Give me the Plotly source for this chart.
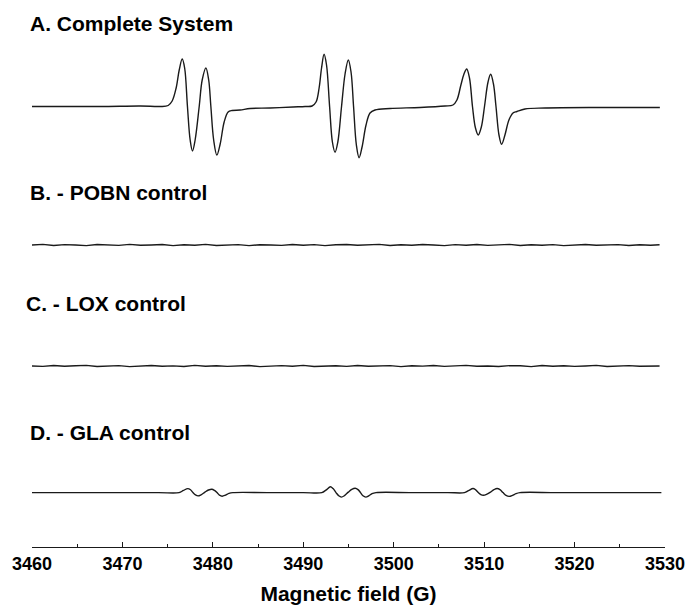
import plotly.graph_objects as go

# ---------------- data ----------------
# A. Complete System: magnetic field (G) and signal intensity (arb. units)
field_a = [3460.0, 3467.5, 3472.0, 3474.18, 3475.06, 3475.50, 3475.94, 3476.28, 3476.61,
           3476.88, 3477.19, 3477.49, 3477.75, 3478.04, 3478.49, 3478.82, 3479.23, 3479.54,
           3479.78, 3480.09, 3480.44, 3480.81, 3481.25, 3481.69, 3482.13, 3483.01, 3484.12,
           3486.33, 3488.87, 3490.20, 3490.97, 3491.41, 3491.75, 3492.02, 3492.30, 3492.57,
           3492.91, 3493.22, 3493.51, 3493.82, 3494.23, 3494.62, 3494.98, 3495.28, 3495.56,
           3495.87, 3496.17, 3496.50, 3496.94, 3497.38, 3497.93, 3499.59, 3502.91, 3505.67,
           3506.55, 3506.99, 3507.43, 3507.77, 3508.07, 3508.38, 3508.71, 3509.04, 3509.35,
           3509.69, 3510.04, 3510.43, 3510.72, 3511.03, 3511.31, 3511.64, 3511.93, 3512.30,
           3512.74, 3513.19, 3513.63, 3514.51, 3516.72, 3522.80, 3529.43]
signal_a = [0.0, 0.0, 0.5, 0.0, 1.0, 5.5, 18.5, 36.5, 47.5,
            38.5, 0.0, -33.5, -44.5, -33.5, 0.0, 26.5, 38.5, 26.5,
            0.0, -33.5, -48.5, -37.5, -15.5, -5.5, -4.0, -3.5, -2.0,
            -1.5, -0.5, 0.0, 0.5, 4.5, 18.5, 38.5, 52.2, 41.5,
            0.0, -35.5, -45.8, -35.5, 0.0, 32.5, 46.5, 34.5, 0.0,
            -38.5, -51.2, -40.5, -18.5, -6.5, -3.5, -2.0, -1.0, 0.5,
            1.5, 6.5, 21.5, 32.5, 37.5, 28.5, 0.0, -21.5, -28.5,
            -20.5, 0.0, 24.5, 32.2, 22.5, 0.0, -28.5, -37.8, -28.5,
            -13.5, -6.5, -5.0, -2.5, -1.5, -1.0, -1.0]

# B. - POBN control (flat, noise only)
field_b = [3460.0, 3461.2, 3462.4, 3463.6, 3464.8, 3466.0, 3467.2, 3468.4, 3469.6, 3470.8,
           3472.0, 3473.2, 3474.4, 3475.6, 3476.8, 3478.0, 3479.2, 3480.4, 3481.6, 3482.8,
           3484.0, 3485.2, 3486.4, 3487.6, 3488.8, 3490.0, 3491.2, 3492.4, 3493.6, 3494.8,
           3496.0, 3497.2, 3498.4, 3499.6, 3500.8, 3502.0, 3503.2, 3504.4, 3505.6, 3506.8,
           3508.0, 3509.2, 3510.4, 3511.6, 3512.8, 3514.0, 3515.2, 3516.4, 3517.6, 3518.8,
           3520.0, 3521.2, 3522.4, 3523.6, 3524.8, 3526.0, 3527.2, 3528.4, 3529.4]
signal_b = [0.0, 0.6, -0.5, 0.4, 0.0, -0.6, 0.5, 0.2, -0.4, 0.6,
            -0.3, 0.0, 0.5, -0.6, 0.3, -0.2, 0.6, -0.5, 0.1, 0.4,
            -0.6, 0.3, 0.0, -0.4, 0.5, -0.2, 0.4, -0.6, 0.2, 0.5,
            -0.3, 0.0, 0.6, -0.5, 0.2, -0.3, 0.5, 0.0, -0.6, 0.4,
            -0.2, 0.5, -0.4, 0.1, 0.6, -0.5, 0.3, -0.2, 0.4, -0.6,
            0.2, 0.5, -0.3, 0.0, 0.4, -0.5, 0.3, -0.2, 0.2]

# C. - LOX control (flat, noise only)
field_c = field_b
signal_c = [0.0, -0.4, 0.5, -0.2, 0.3, 0.6, -0.5, 0.0, 0.4, -0.6,
            0.2, 0.5, -0.3, 0.1, -0.5, 0.6, -0.2, 0.3, -0.4, 0.0,
            0.5, -0.6, 0.2, 0.4, -0.3, 0.6, -0.5, 0.1, 0.3, -0.4,
            0.5, -0.2, 0.0, 0.4, -0.6, 0.3, -0.1, 0.5, -0.4, 0.2,
            0.6, -0.3, 0.0, -0.5, 0.4, 0.2, -0.6, 0.5, -0.2, 0.3,
            -0.4, 0.0, 0.6, -0.5, 0.2, 0.4, -0.3, 0.1, 0.0]

# D. - GLA control
field_d = [3460.0, 3468.0, 3474.0, 3476.26, 3476.75, 3477.23, 3477.53, 3477.80, 3478.08,
           3478.37, 3478.69, 3479.13, 3479.52, 3479.89, 3480.18, 3480.46, 3480.73, 3481.03,
           3481.39, 3481.78, 3482.22, 3486.0, 3490.0, 3492.05, 3492.51, 3493.00, 3493.29,
           3493.62, 3493.92, 3494.21, 3494.56, 3494.98, 3495.36, 3495.74, 3496.05, 3496.33,
           3496.60, 3496.91, 3497.27, 3497.60, 3498.04, 3502.0, 3506.0, 3507.82, 3508.27,
           3508.77, 3509.04, 3509.35, 3509.63, 3509.91, 3510.26, 3510.70, 3511.09, 3511.43,
           3511.75, 3512.08, 3512.42, 3512.76, 3513.13, 3513.52, 3513.96, 3518.0, 3524.0,
           3529.6]
signal_d = [0.0, 0.0, 0.0, 0.0, 2.2, 4.0, 2.8, 0.0, -2.3,
            -3.3, -2.2, 0.5, 2.6, 3.4, 2.2, 0.0, -2.6, -3.6,
            -2.5, -0.8, 0.0, 0.0, 0.0, 0.0, 2.5, 5.8, 4.0,
            0.0, -3.2, -4.5, -3.0, 0.5, 3.2, 4.4, 3.0, 0.0,
            -3.2, -4.5, -3.0, -1.0, 0.0, 0.0, 0.0, 0.0, 2.0,
            4.1, 3.0, 0.0, -2.0, -2.7, -1.8, 0.5, 3.0, 4.1,
            3.0, 0.0, -2.8, -3.8, -2.8, -1.0, 0.0, 0.0, 0.0,
            0.0]

panel_labels = ["A. Complete System", "B. - POBN control", "C. - LOX control", "D. - GLA control"]
x_ticks = [3460, 3470, 3480, 3490, 3500, 3510, 3520, 3530]
x_title = "Magnetic field (G)"

# ---------------- layout geometry ----------------
W, H = 686, 605
ML, MR, MT, MB = 32, 21, 0, 58
plot_h = H - MT - MB          # 547
baselines_px = [106.5, 245.0, 366.0, 492.6]   # y pixel of each trace baseline
label_px = [(28, 23), (28, 192), (24, 303), (28, 432)]   # (x, y center) of panel labels
half = 60  # half-height (px) of each panel window; 1 data unit = 1 px
FONT = "Liberation Sans, Arial, sans-serif"

fig = go.Figure()
series = [(field_a, signal_a, "spline"), (field_b, signal_b, "linear"),
          (field_c, signal_c, "linear"), (field_d, signal_d, "spline")]
axis_names = ["y", "y2", "y3", "y4"]
for (fx, sy, shp), ax in zip(series, axis_names):
    fig.add_trace(go.Scatter(x=fx, y=sy, mode="lines", xaxis="x", yaxis=ax,
                             line=dict(color="#1a1a1a", width=1.4, shape=shp),
                             hoverinfo="skip", showlegend=False))

layout_axes = {}
for ax, bpx in zip(axis_names, baselines_px):
    from_bottom = plot_h - bpx
    d0 = (from_bottom - half) / plot_h
    d1 = (from_bottom + half) / plot_h
    lo, hi = -half, half
    if d0 < 0:
        lo = -from_bottom
        d0 = 0.0
    key = "yaxis" if ax == "y" else "yaxis" + ax[1:]
    layout_axes[key] = dict(domain=[d0, d1], range=[lo, hi], visible=False,
                            anchor="x", fixedrange=True)

fig.update_layout(
    width=W, height=H,
    margin=dict(l=ML, r=MR, t=MT, b=MB),
    paper_bgcolor="white", plot_bgcolor="white",
    xaxis=dict(range=[3460, 3530], tickvals=x_ticks, ticktext=[str(t) for t in x_ticks],
               showgrid=False, zeroline=False, showline=True, linecolor="#1a1a1a", linewidth=1.3,
               ticks="inside", ticklen=5, tickwidth=1.2, tickcolor="#1a1a1a",
               minor=dict(dtick=5, tick0=3460, ticks="inside", ticklen=3, tickwidth=1,
                          tickcolor="#1a1a1a"),
               tickfont=dict(family=FONT, size=18, color="black", weight="bold"),
               title=dict(text=x_title, standoff=14,
                          font=dict(family=FONT, size=21, color="black", weight="bold")),
               domain=[0, 1], anchor="y4", fixedrange=True),
    **layout_axes,
)

for text, (lx, ly) in zip(panel_labels, label_px):
    fig.add_annotation(text=text, xref="paper", yref="paper",
                       x=(lx - ML) / (W - ML - MR), y=(plot_h - ly) / plot_h,
                       xanchor="left", yanchor="middle", showarrow=False,
                       font=dict(family=FONT, size=21, color="black", weight="bold"))

fig.write_html("out.html")
